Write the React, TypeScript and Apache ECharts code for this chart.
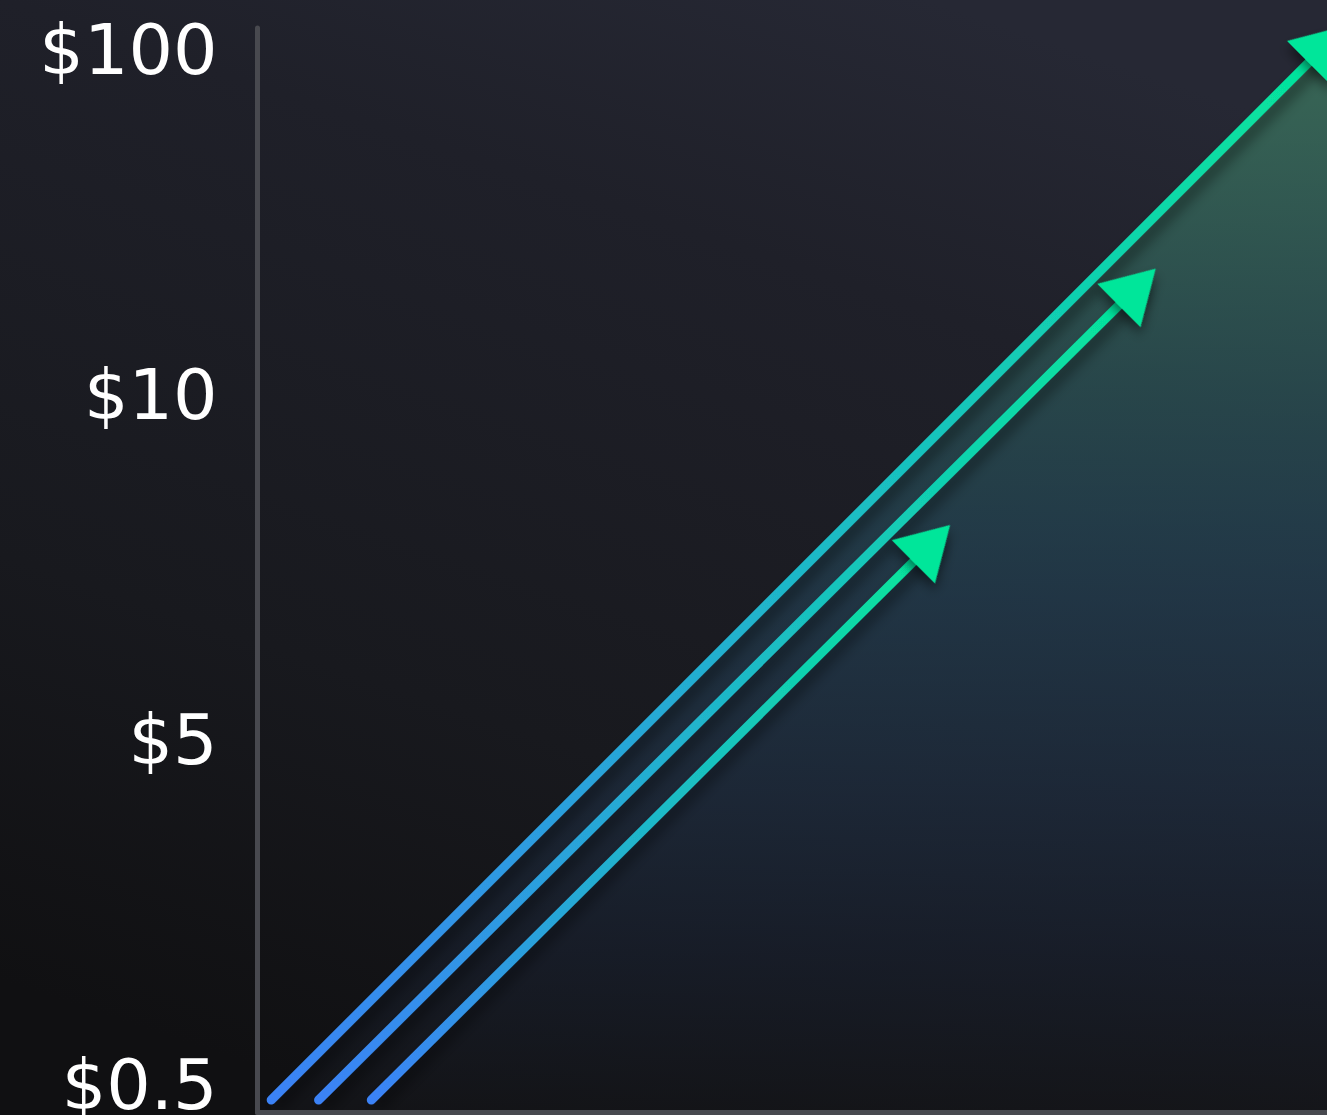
import React, { useEffect, useRef } from 'react';
import * as echarts from 'echarts';

// Y ticks (evenly spaced stylised price levels)
const yTickValues = [0, 1, 2, 3];
const yTickLabels = ['$0.5', '$5', '$10', '$100'];

// Three growth paths: [x, y] start and end (end = arrow head centre)
const path1 = [[1.28, -0.0435], [100, 3.017]];
const path2 = [[5.71, -0.0435], [82.26, 2.313]];
const path3 = [[10.64, -0.0435], [63.04, 1.57]];
const arrowHeads = [path1[1], path2[1], path3[1]];

const W = 1327;
const H = 1115;

function lineGradient() {
  return new echarts.graphic.LinearGradient(0, 1, 1, 0, [
    { offset: 0, color: '#3b82f6' },
    { offset: 0.5, color: '#1eb8c8' },
    { offset: 1, color: '#04e69a' },
  ]);
}

const lineShadow = {
  shadowColor: 'rgba(0,0,0,0.5)',
  shadowBlur: 14,
  shadowOffsetX: 6,
  shadowOffsetY: 6,
};

export default function App() {
  const ref = useRef<HTMLDivElement>(null);
  useEffect(() => {
    document.body.style.margin = '0';
    const chart = echarts.init(ref.current!, null, { renderer: 'svg' });
    const mkLine = (data: number[][], withArea: boolean) => ({
      type: 'line',
      data,
      showSymbol: false,
      symbol: 'none',
      clip: false,
      z: 3,
      lineStyle: { width: 9, cap: 'round', color: lineGradient(), ...lineShadow },
      areaStyle: withArea
        ? {
            origin: 'start',
            color: new echarts.graphic.LinearGradient(0, 0, 0, 1, [
              { offset: 0, color: '#408266' },
              { offset: 0.05, color: '#3d7b62' },
              { offset: 0.33, color: '#2b5558' },
              { offset: 0.45, color: '#254756' },
              { offset: 0.52, color: '#233f52' },
              { offset: 0.7, color: '#1e2d40' },
              { offset: 0.85, color: '#181f2d' },
              { offset: 1, color: '#141519' },
            ]),
          }
        : undefined,
    });
    chart.setOption({
      animation: false,
      backgroundColor: '#17181d',
      graphic: [
        {
          type: 'rect',
          z: -100,
          silent: true,
          shape: { x: 0, y: 0, width: W, height: H },
          style: {
            fill: new echarts.graphic.LinearGradient(0.3, 1, 0.7, 0, [
              { offset: 0, color: '#101012' },
              { offset: 0.33, color: '#18191e' },
              { offset: 0.76, color: '#1f2029' },
              { offset: 1, color: '#262834' },
            ]),
          },
        },
      ],
      grid: {
        left: 257.5,
        right: 0,
        top: 28,
        bottom: 2.5,
        containLabel: false,
        outerBoundsMode: 'none',
      },
      xAxis: {
        type: 'value',
        min: 0,
        max: 100,
        z: 10,
        axisLine: { show: true, onZero: false, lineStyle: { color: '#48494f', width: 5 } },
        axisTick: { show: false },
        axisLabel: { show: false },
        splitLine: { show: false },
      },
      yAxis: {
        type: 'value',
        min: -0.0797,
        max: 3.0638,
        z: 10,
        axisLine: { show: true, onZero: false, lineStyle: { color: '#48494f', width: 5 } },
        axisTick: { show: false },
        splitLine: { show: false },
        axisLabel: {
          customValues: yTickValues,
          formatter: (v: number) => yTickLabels[Math.round(v)] ?? '',
          color: '#ffffff',
          fontFamily: 'DejaVu Sans',
          fontSize: 70,
          margin: 40,
        },
      },
      series: [
        mkLine(path1, true),
        mkLine(path2, false),
        mkLine(path3, false),
        {
          type: 'scatter',
          data: arrowHeads,
          clip: false,
          z: 5,
          symbol: 'path://M0,0 L1,2 L-1,2 Z',
          symbolSize: [61, 52],
          symbolRotate: -45,
          itemStyle: {
            color: '#05e69a',
            opacity: 1,
            shadowColor: 'rgba(0,0,0,0.5)',
            shadowBlur: 12,
            shadowOffsetX: 5,
            shadowOffsetY: 5,
          },
        },
      ],
    });
    return () => chart.dispose();
  }, []);
  return <div ref={ref} style={{ width: W, height: H }} />;
}
